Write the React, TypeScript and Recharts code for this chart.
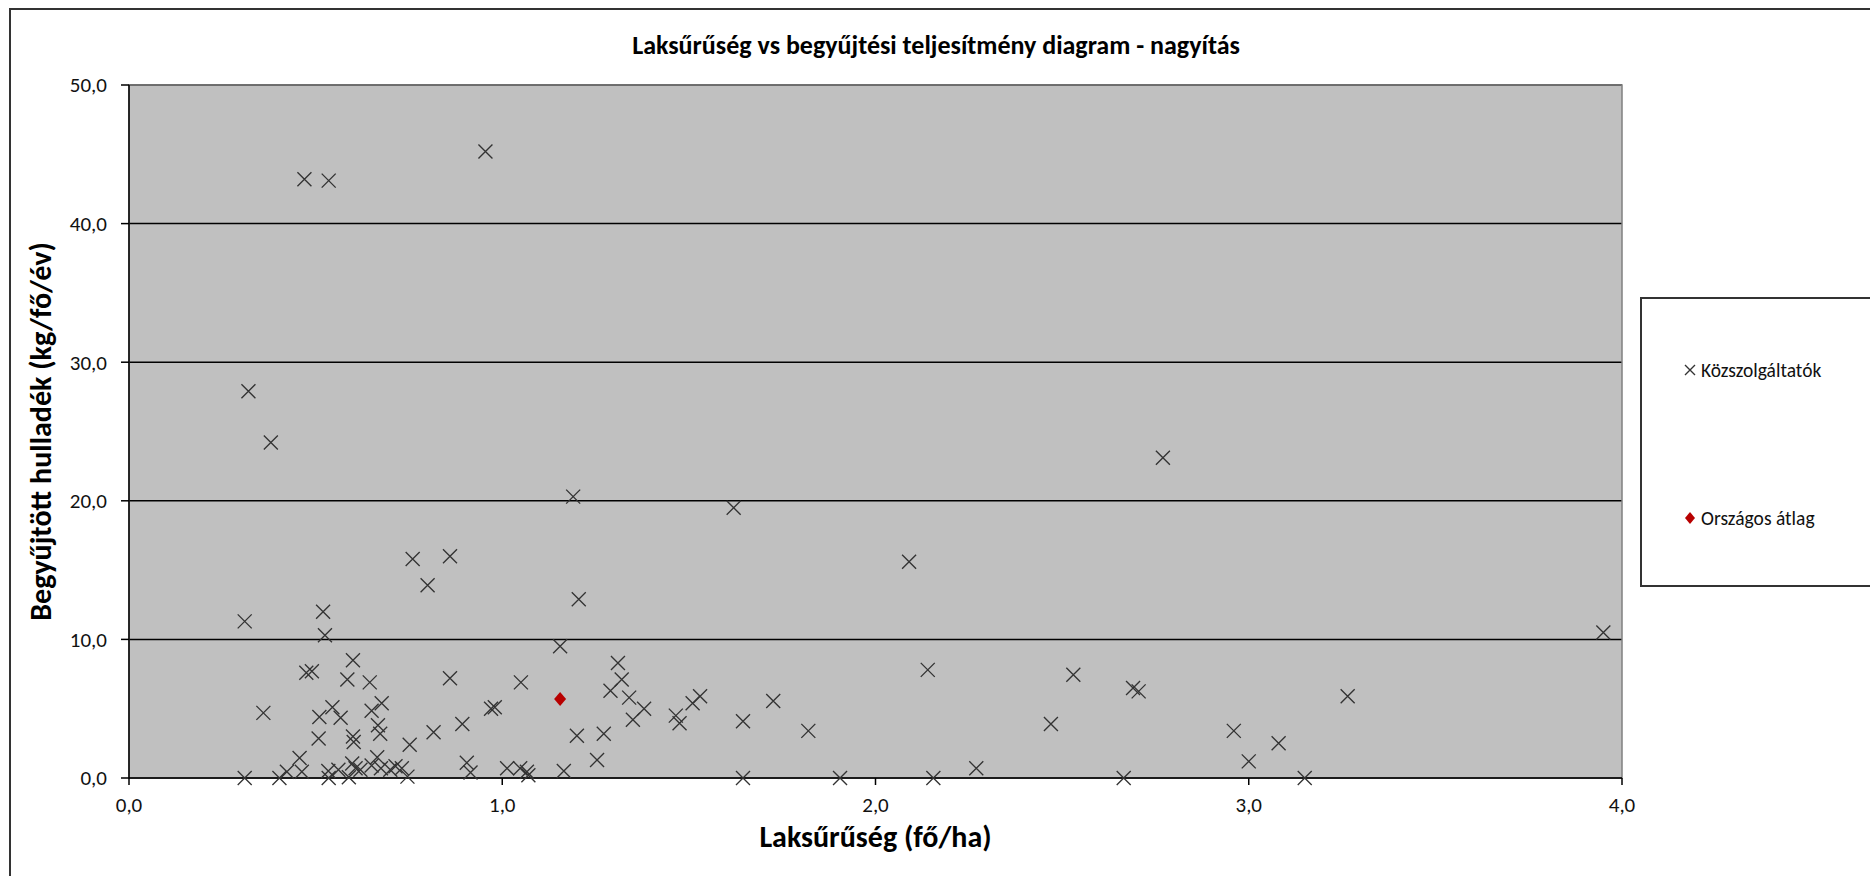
import React from "react";
import {
  ScatterChart,
  Scatter,
  XAxis,
  YAxis,
  CartesianGrid,
  ReferenceArea,
} from "recharts";

const densityTicks = [0, 1, 2, 3, 4];
const wasteTicks = [0, 10, 20, 30, 40, 50];

// Közszolgáltatók – laksűrűség (fő/ha)
const providerDensity = [
  0.32, 0.38, 0.47, 0.535, 0.955, 0.31, 0.52, 0.525, 0.76, 0.86,
  0.8, 1.19, 1.62, 1.205, 2.09, 2.77, 3.95, 1.155, 0.6, 0.475,
  0.49, 0.585, 0.645, 0.86, 1.05, 1.31, 1.32, 1.29, 1.34, 1.38,
  1.35, 1.465, 1.475, 1.51, 1.53, 0.97, 0.98, 0.36, 0.545, 0.51,
  0.567, 0.677, 0.65, 0.667, 0.673, 0.893, 0.816, 0.508, 0.6, 0.602,
  0.752, 0.457, 0.31, 0.403, 0.423, 0.463, 0.534, 0.535, 0.561, 0.589,
  0.598, 0.607, 0.62, 0.65, 0.665, 0.675, 0.7, 0.714, 0.731, 0.746,
  0.905, 0.915, 1.013, 1.048, 1.066, 1.07, 1.165, 1.2, 1.272, 1.254,
  1.645, 1.726, 1.645, 1.82, 1.905, 2.14, 2.155, 2.27, 2.47, 2.53,
  2.69, 2.705, 2.665, 2.96, 3.0, 3.08, 3.15, 3.265,
];

// Közszolgáltatók – begyűjtött hulladék (kg/fő/év)
const providerWaste = [
  27.9, 24.2, 43.2, 43.1, 45.2, 11.3, 12.0, 10.3, 15.8, 16.0,
  13.9, 20.3, 19.5, 12.9, 15.6, 23.1, 10.5, 9.5, 8.5, 7.6,
  7.7, 7.1, 6.9, 7.2, 6.9, 8.3, 7.1, 6.3, 5.8, 5.0,
  4.2, 4.5, 3.95, 5.4, 5.9, 5.0, 5.1, 4.7, 5.1, 4.4,
  4.35, 5.4, 4.85, 3.8, 3.2, 3.9, 3.3, 2.85, 3.0, 2.6,
  2.4, 1.45, 0.0, 0.0, 0.45, 0.45, 0.5, 0.0, 0.6, 0.05,
  1.05, 0.7, 0.6, 0.9, 1.5, 0.7, 0.6, 0.85, 0.7, 0.1,
  1.1, 0.4, 0.7, 0.7, 0.45, 0.2, 0.5, 3.05, 3.2, 1.3,
  4.1, 5.55, 0.0, 3.4, 0.0, 7.8, 0.0, 0.7, 3.9, 7.45,
  6.5, 6.25, 0.0, 3.4, 1.2, 2.5, 0.0, 5.9,
];

// Országos átlag
const averageDensity = [1.155];
const averageWaste = [5.7];

const providers = providerDensity.map((x, i) => ({ x, y: providerWaste[i] }));
const average = averageDensity.map((x, i) => ({ x, y: averageWaste[i] }));

const FONT = "Carlito, Calibri, Lato, 'Open Sans', sans-serif";
const fmt = (v: number) => v.toFixed(1).replace(".", ",");

function Cross(props: any) {
  const { cx, cy } = props;
  const r = 7;
  return (
    <path
      d={`M${cx - r},${cy - r}L${cx + r},${cy + r}M${cx + r},${cy - r}L${cx - r},${cy + r}`}
      stroke="#333"
      strokeWidth={1.35}
      fill="none"
    />
  );
}

function Diamond(props: any) {
  const { cx, cy } = props;
  return (
    <path
      d={`M${cx},${cy - 7}L${cx + 6},${cy}L${cx},${cy + 7}L${cx - 6},${cy}Z`}
      fill="#b80000"
    />
  );
}

const tickStyle = { fill: "#111", fontSize: 21, fontFamily: FONT };
const titleStyle = { fill: "#000", fontSize: 30, fontWeight: 700, fontFamily: FONT };

export default function App() {
  return (
    <div
      style={{
        position: "absolute",
        left: 0,
        top: 0,
        width: 1870,
        height: 876,
        overflow: "hidden",
        background: "#fff",
        fontFamily: FONT,
      }}
    >
      <div
        style={{
          position: "absolute",
          left: 9,
          top: 8,
          width: 1900,
          height: 900,
          border: "2px solid #333",
        }}
      />
      <div
        style={{
          position: "absolute",
          left: 0,
          top: 30,
          width: 1872,
          textAlign: "center",
          fontSize: 26,
          lineHeight: "30px",
          fontWeight: 700,
          color: "#000",
        }}
      >
        Laksűrűség vs begyűjtési teljesítmény diagram - nagyítás
      </div>

      <div style={{ position: "absolute", left: 0, top: 0 }}>
        <ScatterChart
          width={1870}
          height={876}
          margin={{ top: 85, right: 248, bottom: 0, left: 0 }}
        >
          <CartesianGrid
            vertical={false}
            stroke="#000"
            strokeWidth={1.5}
            fill="#c0c0c0"
            fillOpacity={1}
          />
          <ReferenceArea
            x1={0}
            x2={4}
            y1={0}
            y2={50}
            fill="none"
            stroke="#808080"
            strokeWidth={1.5}
          />
          <XAxis
            type="number"
            dataKey="x"
            domain={[0, 4]}
            ticks={densityTicks}
            tickFormatter={fmt}
            height={98}
            tickSize={7}
            tickMargin={12}
            axisLine={{ stroke: "#000", strokeWidth: 1.5 }}
            tickLine={{ stroke: "#000", strokeWidth: 1.5 }}
            tick={tickStyle}
            label={{
              value: "Laksűrűség (fő/ha)",
              position: "insideBottom",
              offset: 29,
              style: titleStyle,
            }}
          />
          <YAxis
            type="number"
            dataKey="y"
            domain={[0, 50]}
            ticks={wasteTicks}
            tickFormatter={fmt}
            width={129}
            tickSize={8}
            tickMargin={14}
            axisLine={{ stroke: "#000", strokeWidth: 1.5 }}
            tickLine={{ stroke: "#000", strokeWidth: 1.5 }}
            tick={tickStyle}
            label={{
              value: "Begyűjtött hulladék (kg/fő/év)",
              angle: -90,
              position: "insideLeft",
              offset: 40,
              style: { ...titleStyle, textAnchor: "middle" },
            }}
          />
          <Scatter
            name="Közszolgáltatók"
            data={providers}
            shape={Cross}
            isAnimationActive={false}
          />
          <Scatter
            name="Országos átlag"
            data={average}
            shape={Diamond}
            isAnimationActive={false}
          />
        </ScatterChart>
      </div>

      <div
        style={{
          position: "absolute",
          left: 1640,
          top: 297,
          width: 260,
          height: 286,
          border: "2px solid #333",
          background: "#fff",
          fontSize: 19.5,
          color: "#111",
        }}
      >
        <div style={{ position: "absolute", left: 40, top: 59, display: "flex", alignItems: "center" }}>
          <svg width={16} height={16} style={{ marginRight: 3 }}>
            <path d="M3,3L13,13M13,3L3,13" stroke="#333" strokeWidth={1.35} />
          </svg>
          <span>Közszolgáltatók</span>
        </div>
        <div style={{ position: "absolute", left: 40, top: 207, display: "flex", alignItems: "center" }}>
          <svg width={16} height={16} style={{ marginRight: 3 }}>
            <path d="M8,2L13,8L8,14L3,8Z" fill="#b80000" />
          </svg>
          <span>Országos átlag</span>
        </div>
      </div>
    </div>
  );
}
